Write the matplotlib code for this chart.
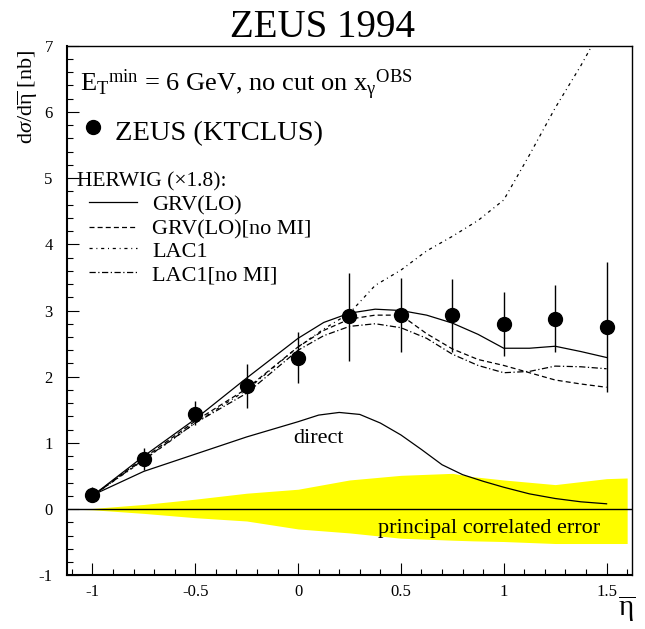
import matplotlib.pyplot as plt
from matplotlib.ticker import MultipleLocator

plt.rcParams['font.family'] = 'Liberation Serif'
plt.rcParams['mathtext.fontset'] = 'custom'
plt.rcParams['mathtext.rm'] = 'Liberation Serif'
plt.rcParams['mathtext.it'] = 'Liberation Serif:italic'
plt.rcParams['mathtext.bf'] = 'Liberation Serif:bold'

# ZEUS (KTCLUS) measurement
eta = [-1, -0.75, -0.5, -0.25, 0, 0.25, 0.5, 0.75, 1, 1.25, 1.5]
xsec = [0.22, 0.75, 1.44, 1.86, 2.28, 2.91, 2.93, 2.93, 2.80, 2.87, 2.75]
err_hi = [0.12, 0.17, 0.19, 0.33, 0.39, 0.65, 0.56, 0.55, 0.48, 0.51, 0.98]
err_lo = [0.10, 0.16, 0.17, 0.33, 0.38, 0.67, 0.56, 0.55, 0.48, 0.50, 0.98]

# HERWIG curves (x1.8)
eta_mc = [-1, -0.75, -0.5, -0.25, 0, 0.125, 0.25, 0.375, 0.5, 0.625, 0.75,
          0.875, 1, 1.125, 1.25, 1.375, 1.5]
grv = [0.2, 0.80, 1.36, 1.98, 2.58, 2.82, 2.96, 3.02, 3.0, 2.93, 2.81,
       2.64, 2.43, 2.43, 2.46, 2.38, 2.29]
grv_nomi = [0.2, 0.77, 1.33, 1.82, 2.45, 2.70, 2.87, 2.93, 2.93, 2.65, 2.42,
            2.26, 2.17, 2.06, 1.95, 1.89, 1.84]
lac1 = [0.2, 0.74, 1.30, 1.80, 2.45, 2.72, 2.96, 3.38, 3.61, 3.90, 4.12,
        4.36, 4.67, 5.35, 6.06, 6.70, 7.4]
lac1_nomi = [0.2, 0.75, 1.30, 1.75, 2.40, 2.62, 2.76, 2.80, 2.74, 2.58, 2.34,
             2.17, 2.06, 2.08, 2.16, 2.15, 2.12]

# direct contribution
eta_dir = [-1, -0.75, -0.5, -0.25, 0, 0.1, 0.2, 0.3, 0.4, 0.5, 0.6, 0.7,
           0.8, 0.9, 1, 1.125, 1.25, 1.375, 1.5]
direct = [0.21, 0.57, 0.83, 1.09, 1.32, 1.42, 1.46, 1.43, 1.30, 1.12, 0.90, 0.67,
          0.52, 0.42, 0.33, 0.23, 0.16, 0.11, 0.08]

# principal correlated error band
band_x = [-1.125, -1, -0.75, -0.5, -0.25, 0, 0.25, 0.5, 0.75, 0.85, 1, 1.25, 1.5, 1.6]
band_hi = [0, 0.01, 0.07, 0.15, 0.24, 0.30, 0.44, 0.51, 0.54, 0.49, 0.44, 0.37, 0.46, 0.47]
band_lo = [0, -0.01, -0.065, -0.13, -0.18, -0.30, -0.36, -0.44, -0.47, -0.48, -0.49, -0.52, -0.52, -0.52]

styles = {
    'GRV(LO)': '-',
    'GRV(LO)[no MI]': (0, (4, 2.5)),
    'LAC1': (0, (2.5, 3, 0.8, 3)),
    'LAC1[no MI]': (0, (5, 2, 1, 2)),
}

fig = plt.figure(figsize=(6.45, 6.29), dpi=100)
ax = fig.add_axes([0.1034, 0.0854, 0.8769, 0.8419])

ax.fill_between(band_x, band_lo, band_hi, color='#ffff00', lw=0, zorder=1)
ax.axhline(0, color='black', lw=1, zorder=2)

lw = 0.9
ax.plot(eta_mc, grv, color='black', lw=lw, ls=styles['GRV(LO)'], zorder=3)
ax.plot(eta_mc, grv_nomi, color='black', lw=lw, ls=styles['GRV(LO)[no MI]'], zorder=3)
ax.plot(eta_mc, lac1, color='black', lw=lw, ls=styles['LAC1'], zorder=3)
ax.plot(eta_mc, lac1_nomi, color='black', lw=lw, ls=styles['LAC1[no MI]'], zorder=3)
ax.plot(eta_dir, direct, color='black', lw=lw, zorder=3)

ax.errorbar(eta, xsec, yerr=[err_lo, err_hi], fmt='o', color='black', ms=10,
            elinewidth=1.0, capsize=0, zorder=5)

ax.set_xlim(-1.125, 1.625)
ax.set_ylim(-1, 7)
ax.xaxis.set_minor_locator(MultipleLocator(0.1))
ax.yaxis.set_minor_locator(MultipleLocator(0.2))
ax.set_xticks([-1, -0.5, 0, 0.5, 1, 1.5])
ax.set_xticklabels(['-1', '-0.5', '0', '0.5', '1', '1.5'])
ax.set_yticks(range(-1, 8))
ax.set_yticklabels([str(v) for v in range(-1, 8)])
ax.tick_params(which='both', direction='in', top=False, right=False, width=0.8, labelsize=12)
ax.tick_params(which='major', length=8.5)
ax.tick_params(which='minor', length=4.5)
ax.tick_params(axis='x', pad=6)
ax.tick_params(axis='y', pad=10)
for side in ['left', 'bottom']:
    ax.spines[side].set_linewidth(1.5)
for side in ['top', 'right']:
    ax.spines[side].set_linewidth(1.0)

fig.text(0.5, 0.941, 'ZEUS 1994', ha='center', va='baseline', fontsize=28)

ax.text(-0.068, 0.992, r'd$\sigma$/d$\overline{\mathrm{\eta}}$ [nb]', transform=ax.transAxes,
        rotation=90, ha='center', va='top', fontsize=16)
ax.text(0.99, -0.077, r'$\overline{\mathrm{\eta}}$', transform=ax.transAxes,
        ha='center', va='baseline', fontsize=21)

ax.text(0.0235, 0.9132,
        r'E$_\mathrm{T}$$^\mathrm{min}$ = 6 GeV, no cut on x$_\mathrm{\gamma}$$^\mathrm{OBS}$',
        transform=ax.transAxes, fontsize=19, va='baseline')
ax.plot([0.0465], [0.847], 'o', color='black', ms=10, transform=ax.transAxes)
ax.text(0.0854, 0.822, 'ZEUS (KTCLUS)', transform=ax.transAxes, fontsize=20.5, va='baseline')

ax.text(0.0187, 0.7338, 'HERWIG (\u00d71.8):', transform=ax.transAxes, fontsize=15.5, va='baseline')
leg_line_y = [0.7054, 0.6582, 0.6175, 0.5733]
leg_text_y = [0.6898, 0.6445, 0.6016, 0.5576]
for (name, ls), ly, ty in zip(styles.items(), leg_line_y, leg_text_y):
    ax.plot([0.039, 0.124], [ly, ly], color='black', lw=lw, ls=ls, transform=ax.transAxes)
    ax.text(0.151, ty, name, transform=ax.transAxes, fontsize=16, va='baseline')

ax.text(0.4006, 0.2492, 'direct', transform=ax.transAxes, fontsize=16, va='baseline')
ax.text(0.551, 0.0804, 'principal correlated error', transform=ax.transAxes,
        fontsize=16, va='baseline')

fig.savefig('out.png', dpi=100)
